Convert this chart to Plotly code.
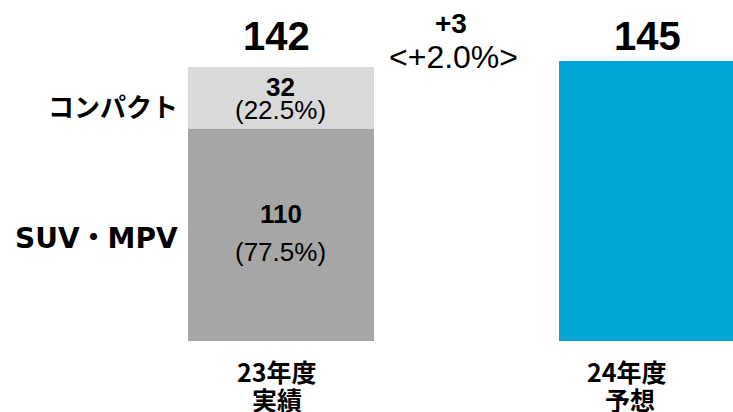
import plotly.graph_objects as go

categories = ["23年度実績", "24年度予想"]
segments = ["コンパクト", "SUV・MPV"]
compact_23 = [32]
suv_23 = [110]
total_23 = 142
forecast_24 = [145]
share_compact = "(22.5%)"
share_suv = "(77.5%)"
diff_label = "+3"
diff_pct = "<+2.0%>"

LAT = "Liberation Sans, Arial, sans-serif"
JP = "Noto Sans CJK JP, sans-serif"
WIDE = "DejaVu Sans, Noto Sans CJK JP, sans-serif"

fig = go.Figure()
fig.add_trace(go.Bar(x=[0], y=suv_23, width=0.5, marker=dict(color="#A6A6A6", line=dict(width=0)),
                     hoverinfo="skip"))
fig.add_trace(go.Bar(x=[0], y=compact_23, width=0.5, marker=dict(color="#D9D9D9", line=dict(width=0)),
                     hoverinfo="skip"))
fig.add_trace(go.Bar(x=[1], y=forecast_24, width=0.5, marker=dict(color="#00A6D6", line=dict(width=0)),
                     hoverinfo="skip"))

ann = []
def A(text, x, y, size, bold=False, family=LAT, xref="x", xanchor="center", xshift=0):
    ann.append(dict(text=f"<b>{text}</b>" if bold else text, x=x, y=y, xref=xref, yref="paper",
                    xanchor=xanchor, yanchor="middle", showarrow=False, xshift=xshift,
                    font=dict(family=family, size=size, color="black")))

A(str(total_23), 0, 0.913, 40, True, xshift=-4)
A(str(forecast_24[0]), 1, 0.913, 40, True, xshift=-5)
A(diff_label, 0.615, 0.944, 28, True, xref="paper")
A(diff_pct, 0.619, 0.862, 32, xref="paper")
A(str(compact_23[0]), 0, 0.789, 26, True)
A(share_compact, 0, 0.733, 26)
A(str(suv_23[0]), 0, 0.481, 26, True)
A(share_suv, 0, 0.388, 26)
A(segments[0], 0.246, 0.743, 26, True, JP, xref="paper", xanchor="right")
A(segments[1], 0.246, 0.422, 28, True, WIDE, xref="paper", xanchor="right")
A("23年度", 0.378, 1 - 371 / 412, 25, True, JP, xref="paper")
A("実績", 0.378, 1 - 399 / 412, 25, True, JP, xref="paper")
A("24年度", 0.855, 1 - 371 / 412, 25, True, JP, xref="paper")
A("予想", 0.859, 1 - 399 / 412, 25, True, JP, xref="paper")

fig.update_layout(
    width=733, height=412, barmode="stack", showlegend=False,
    margin=dict(l=0, r=0, t=0, b=0),
    paper_bgcolor="white", plot_bgcolor="white",
    xaxis=dict(range=[-0.757, 1.218], visible=False, fixedrange=True),
    yaxis=dict(range=[-36.8, 176.7], visible=False, fixedrange=True),
    annotations=ann,
)
fig.write_html("out.html", config={"displayModeBar": False},
               post_script="document.body.style.margin='0';document.body.style.overflow='hidden';")
